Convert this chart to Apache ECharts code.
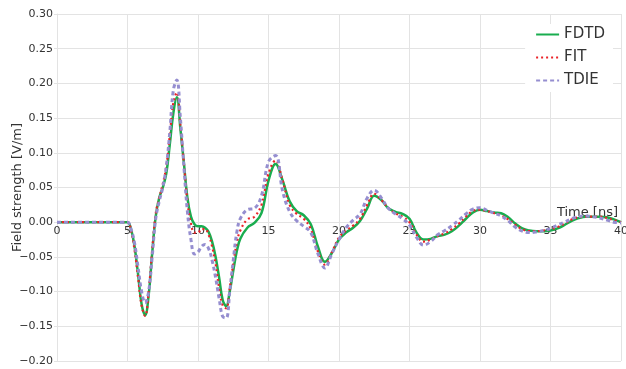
<!DOCTYPE html>
<html>
<head>
<meta charset="utf-8">
<script src="https://cdn.jsdelivr.net/npm/echarts@6/dist/echarts.min.js"></script>
<style>html,body{margin:0;padding:0;background:#fff}#c{width:626px;height:369px}</style>
</head>
<body>
<div id="c"></div>
<script>
var seriesNames = ['FDTD', 'FIT', 'TDIE'];
var xTicks = [0, 5, 10, 15, 20, 25, 30, 35, 40];
var yTicks = [-0.20, -0.15, -0.10, -0.05, 0.00, 0.05, 0.10, 0.15, 0.20, 0.25, 0.30];
var time = [0, 2.5, 4.5, 5, 5.25, 5.5, 5.75, 6, 6.25, 6.5, 6.75, 7, 7.25, 7.5, 7.75, 8, 8.25, 8.5, 8.75, 9, 9.25, 9.5, 9.75, 10, 10.25, 10.5, 10.75, 11, 11.25, 11.5, 11.75, 12, 12.25, 12.5, 12.75, 13, 13.5, 14, 14.5, 15, 15.5, 16, 16.5, 17, 17.5, 18, 18.5, 19, 19.5, 20, 20.5, 21, 21.5, 22, 22.5, 23, 23.5, 24, 24.5, 25, 25.5, 26, 26.5, 27, 27.5, 28, 28.5, 29, 29.5, 30, 30.5, 31, 31.5, 32, 32.5, 33, 33.5, 34, 34.5, 35, 35.5, 36, 36.5, 37, 37.5, 38, 38.5, 39, 39.5, 40];
var fdtd = [0, 0, 0, 0, -0.01, -0.035, -0.075, -0.118, -0.134, -0.105, -0.045, 0.008, 0.035, 0.05, 0.07, 0.112, 0.157, 0.18, 0.135, 0.085, 0.035, 0.008, -0.003, -0.006, -0.006, -0.008, -0.014, -0.028, -0.05, -0.08, -0.112, -0.121, -0.1, -0.07, -0.042, -0.024, -0.008, -0.001, 0.013, 0.06, 0.084, 0.06, 0.03, 0.016, 0.01, -0.003, -0.035, -0.057, -0.044, -0.025, -0.015, -0.008, 0.002, 0.02, 0.038, 0.032, 0.02, 0.015, 0.012, 0.005, -0.015, -0.025, -0.024, -0.02, -0.018, -0.013, -0.005, 0.005, 0.014, 0.018, 0.016, 0.014, 0.013, 0.007, -0.002, -0.009, -0.012, -0.013, -0.013, -0.012, -0.009, -0.004, 0.002, 0.006, 0.008, 0.008, 0.008, 0.007, 0.004, 0.0];
var fit = [0, 0, 0, 0, -0.012, -0.04, -0.08, -0.12, -0.135, -0.1, -0.04, 0.012, 0.035, 0.055, 0.08, 0.125, 0.172, 0.187, 0.14, 0.085, 0.03, -0.002, -0.015, -0.015, -0.01, -0.01, -0.018, -0.035, -0.06, -0.095, -0.12, -0.124, -0.095, -0.06, -0.03, -0.012, 0.004, 0.008, 0.025, 0.07, 0.089, 0.06, 0.025, 0.012, 0.005, -0.01, -0.042, -0.061, -0.043, -0.022, -0.012, -0.005, 0.005, 0.025, 0.041, 0.032, 0.02, 0.013, 0.008, 0.0, -0.018, -0.028, -0.025, -0.02, -0.016, -0.01, -0.002, 0.008, 0.016, 0.018, 0.016, 0.013, 0.01, 0.004, -0.004, -0.01, -0.013, -0.013, -0.012, -0.01, -0.007, -0.002, 0.004, 0.007, 0.008, 0.008, 0.008, 0.006, 0.003, 0.0];
var tdie = [0, 0, 0, 0, -0.01, -0.03, -0.065, -0.1, -0.116, -0.1, -0.05, 0.005, 0.03, 0.05, 0.08, 0.13, 0.19, 0.205, 0.15, 0.08, 0.015, -0.025, -0.046, -0.043, -0.035, -0.032, -0.038, -0.055, -0.08, -0.11, -0.136, -0.138, -0.1, -0.055, -0.015, 0.005, 0.018, 0.02, 0.038, 0.087, 0.096, 0.045, 0.015, 0.002, -0.006, -0.015, -0.045, -0.066, -0.045, -0.025, -0.008, 0.003, 0.012, 0.035, 0.046, 0.035, 0.02, 0.012, 0.005, -0.004, -0.022, -0.033, -0.028, -0.018, -0.012, -0.005, 0.003, 0.012, 0.019, 0.021, 0.017, 0.013, 0.009, 0.002, -0.007, -0.013, -0.015, -0.014, -0.012, -0.009, -0.004, 0.0, 0.005, 0.008, 0.009, 0.008, 0.006, 0.003, 0.0, -0.001];

function pairs(ys) { return time.map(function (t, i) { return [t, ys[i]]; }); }
var gridColor = '#e3e3e3';
var font = 'DejaVu Sans';
var W = 626, H = 369, gL = 57, gR = 5, gT = 14, gB = 8;
var yMin = yTicks[0], yMax = yTicks[yTicks.length - 1];
// move the x axis from the bottom edge up to the y = 0 line
var zeroOffset = -((H - gT - gB) * (0 - yMin) / (yMax - yMin));
var chart = echarts.init(document.getElementById('c'), null, {renderer: 'canvas'});
chart.setOption({
  animation: false,
  backgroundColor: '#fff',
  textStyle: {fontFamily: font},
  grid: {left: gL, right: gR, top: gT, bottom: gB, outerBoundsMode: 'none'},
  legend: {
    data: seriesNames,
    orient: 'vertical',
    right: 13, top: 24,
    backgroundColor: '#fff',
    padding: [3, 8, 4, 10],
    itemWidth: 23, itemHeight: 14, itemGap: 8,
    itemStyle: {opacity: 0},
    textStyle: {fontSize: 15, color: '#333', fontFamily: font}
  },
  xAxis: {
    type: 'value', min: xTicks[0], max: xTicks[xTicks.length - 1], interval: xTicks[1] - xTicks[0],
    position: 'bottom', offset: zeroOffset,
    name: 'Time [ns]', nameLocation: 'end', nameGap: -3, nameMoveOverlap: false,
    nameTextStyle: {fontSize: 13, color: '#333', align: 'right', verticalAlign: 'bottom', padding: [0, 0, 3, 0]},
    axisLine: {onZero: false, lineStyle: {color: gridColor}},
    axisTick: {show: false},
    axisLabel: {fontSize: 11, color: '#333', margin: 3, showMinLabel: true, showMaxLabel: true},
    splitLine: {show: true, lineStyle: {color: gridColor}}
  },
  yAxis: {
    type: 'value', min: yMin, max: yMax, interval: 0.05,
    name: 'Field strength [V/m]', nameLocation: 'middle', nameGap: 33, nameMoveOverlap: false,
    nameTextStyle: {fontSize: 13, color: '#333'},
    axisLine: {show: true, onZero: false, lineStyle: {color: gridColor}},
    axisTick: {show: true, length: 3, lineStyle: {color: gridColor}},
    axisLabel: {fontSize: 11, color: '#333', margin: 4,
      formatter: function (v) { var s = Math.abs(v).toFixed(2); return (v < -1e-9 ? '\u2212' : '') + s; }},
    splitLine: {show: true, lineStyle: {color: gridColor}}
  },
  series: [
    {name: seriesNames[0], type: 'line', data: pairs(fdtd), smooth: 0.4, showSymbol: false, symbol: 'none',
      lineStyle: {color: '#19ad4f', width: 2.5}, itemStyle: {color: '#19ad4f'}},
    {name: seriesNames[1], type: 'line', data: pairs(fit), smooth: 0.4, showSymbol: false, symbol: 'none',
      lineStyle: {color: '#ea2228', width: 2.2, type: [2, 3]}, itemStyle: {color: '#ea2228'}},
    {name: seriesNames[2], type: 'line', data: pairs(tdie), smooth: 0.4, showSymbol: false, symbol: 'none',
      lineStyle: {color: '#958ed0', width: 3, type: [4, 3]}, itemStyle: {color: '#958ed0'}}
  ]
});
</script>
</body>
</html>
